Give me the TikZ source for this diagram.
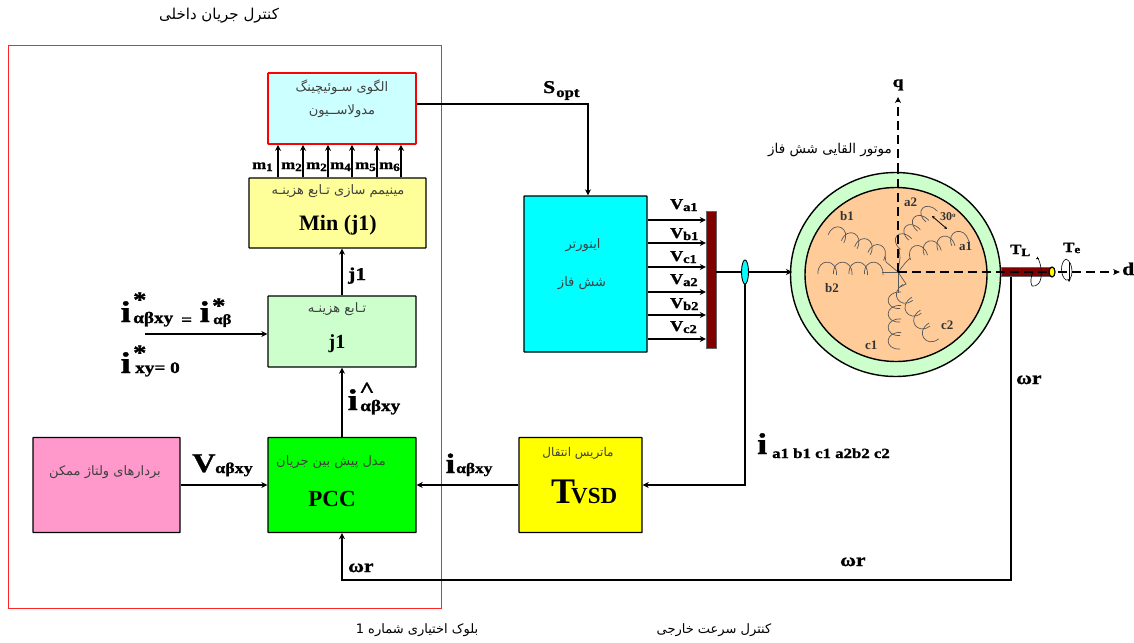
\documentclass[tikz,border=0pt]{standalone}
\usepackage{fontspec}
\setmainfont{Liberation Serif}
\newfontfamily\fafont[Script=Arabic]{DejaVu Sans}
\newfontfamily\hv[UprightFont={* Bold},FakeStretch=1.2,FakeBold=1.2]{Liberation Serif}
\TeXXeTstate=1
\usetikzlibrary{arrows.meta,shapes.geometric}
\definecolor{sensfill}{RGB}{0,255,255}
\definecolor{endfill}{RGB}{255,255,0}
\newcommand\sz[1]{\fontsize{#1}{#1}\selectfont}
\newcommand\per[1]{{\fafont\beginR #1\endR}}
\newcommand\coil[5]{% x,y,angle,n,step
  \begin{scope}[shift={(#1,#2)},rotate=#3]
    \foreach \k in {1,...,#4}{
      \pgfmathsetmacro\xa{(\k-1)*#5}
      \pgfmathsetmacro\xb{\xa+#5+3}
      \draw[coilline] (\xa,2) .. controls (\xa-1,-14) and (\xb+1,-14) .. (\xb,3);
    }
  \end{scope}}
\tikzset{
  x=1pt,y=-1pt,
  box/.style={draw=black,line width=1.4pt,minimum width=#1,inner sep=0pt,rounded corners=0.5pt},
  arr/.style={line width=1.2pt,-{Stealth[length=6pt,width=6pt]}},
  wire/.style={line width=1.2pt},
  coilline/.style={draw=black!65,line width=0.7pt},
  lab/.style={anchor=base west,inner sep=0pt,font=\hv\sz{14}},
  pertxt/.style={inner sep=0pt,font=\sz{13},text=black!75},
  axis/.style={line width=1.4pt,dash pattern=on 9pt off 5pt},
}
\begin{document}
\begin{tikzpicture}
\useasboundingbox (0,0) rectangle (1134,642);
\fill[white] (0,0) rectangle (1134,642);
% frame
\draw[red!85!white,line width=0.9pt] (8,45) rectangle (441,608);
% boxes
\node[box=148pt,minimum height=71pt,fill={rgb,255:red,204;green,255;blue,255},draw=red,line width=1.6pt] (mod) at (342,108.5) {};
\node[box=177pt,minimum height=70pt,fill={rgb,255:red,255;green,255;blue,153}] (minb) at (337.5,213) {};
\node[box=148pt,minimum height=71pt,fill={rgb,255:red,204;green,255;blue,204}] (cost) at (342,331.5) {};
\node[box=148pt,minimum height=95pt,fill={rgb,255:red,0;green,255;blue,0}] (pcc) at (342,485) {};
\node[box=147pt,minimum height=95pt,fill={rgb,255:red,255;green,153;blue,204}] (volt) at (106.5,485) {};
\node[box=123pt,minimum height=95pt,fill={rgb,255:red,255;green,255;blue,0}] (tvsd) at (580.5,485) {};
\node[box=123pt,minimum height=156pt,fill={rgb,255:red,0;green,255;blue,255}] (inv) at (585.5,274) {};
\node[draw=black!60,line width=0.4pt,fill={rgb,255:red,128;green,0;blue,0},minimum width=10pt,minimum height=137pt,inner sep=0pt] (bus) at (711,279.5) {};
% box texts
\node[pertxt] (t1) at (342,87) {\per{الگوی سـوئیچینگ}};
\node[pertxt] (t2) at (342,111) {\per{مدولاســیون}};
\node[pertxt] (t3) at (338,191) {\per{مینیمم سازی تـابع هزینـه}};
\node[inner sep=0pt,font=\bfseries\sz{22}] (t4) at (338,225) {Min (j1)};
\node[pertxt] (t5) at (337,309) {\per{تـابع هزینـه}};
\node[inner sep=0pt,font=\bfseries\sz{20}] (t6) at (337,344) {j1};
\node[pertxt] (t7) at (331,462) {\per{مدل پیش بین جریان}};
\node[inner sep=0pt,font=\bfseries\sz{23}] (t8) at (332,499) {PCC};
\node[pertxt] (t9) at (105,472) {\per{بردارهای ولتاژ ممکن}};
\node[pertxt,font=\sz{12}] (t10) at (578,453) {\per{ماتریس انتقال}};
\node[anchor=base west,inner sep=0pt,font=\bfseries\sz{36}] (t11) at (551,503) {T};
\node[anchor=base west,inner sep=0pt,font=\bfseries\sz{23}] (t12) at (571,503) {VSD};
\node[pertxt] (t13) at (583,245) {\per{اینورتر}};
\node[pertxt] (t14) at (582,283) {\per{شش فاز}};
% outer texts
\node[pertxt,text=black,font=\sz{15}] (t15) at (219,16) {\per{کنترل جریان داخلی}};
\node[pertxt,text=black,font=\sz{13.5}] (t16) at (830,150) {\per{موتور القایی شش فاز}};
\node[pertxt,text=black] (t17) at (417,630) {\per{بلوک اختیاری شماره \beginL 1\endL}};
\node[pertxt,text=black] (t18) at (714,630) {\per{کنترل سرعت خارجی}};
% m arrows
\foreach \x/\lx/\n in {278/252/1,303/281/2,328/306/2,352/330/4,377/355/5,401/379/6}{
  \draw[arr] (minb.north -| \x,0) -- (mod.south -| \x,0);
  \node[lab] (m\lx) at (\lx,169) {m\raisebox{-2pt}{\sz{11}\n}};
}
\draw[arr] (cost.north) -- (cost.north |- minb.south);
\draw[arr] (pcc.north) -- (cost.south);
\draw[arr] (volt.east) -- (pcc.west);
\draw[arr] (tvsd.west) -- (pcc.east);
% reference input
\coordinate (irefstart) at (145,334);
\draw[arr] (irefstart) -- (irefstart -| cost.west);
% motor
\coordinate (mc) at (898,272);
\draw[line width=1.4pt,fill={rgb,255:red,204;green,255;blue,204}] (895.5,274.5) ellipse [x radius=105,y radius=102];
\draw[line width=1.4pt,fill={rgb,255:red,255;green,204;blue,153}] (896,274.5) ellipse [x radius=91,y radius=87];
% windings
\draw[coilline] (mc) -- (882,272);
\coil{818}{272}{0}{4}{15.5}
\draw[coilline] (mc) -- (886,262) -- (885,256);
\coil{829}{233}{-24}{4}{14.5}
\draw[coilline] (mc) -- (906,262) -- (910,258);
\coil{910}{258}{19}{4}{14.5}
\draw[coilline] (mc) -- (900,258) -- (899,248);
\coil{899}{248}{47}{4}{12.5}
\draw[coilline] (mc) -- (898,293);
\coil{898}{349}{90}{4}{13.5}
\draw[coilline] (mc) -- (906,284) -- (900,287);
\coil{937}{340}{124}{4}{15.5}
% axes
\draw[axis] (mc) -- (898,172);
\draw[arr,dash pattern=on 9pt off 5pt] (898,172) -- (898,97);
\node[draw=black!60,line width=0.3pt,fill={rgb,255:red,128;green,0;blue,0},minimum width=51pt,minimum height=9pt,inner sep=0pt] (shaft) at (1026.5,272) {};
\draw[axis] (mc) -- (1052,272);
\draw[line width=1.2pt,fill=endfill] (1052,272) ellipse [x radius=3,y radius=5];
\draw[line width=1.2pt,dash pattern=on 9pt off 5pt,-{Stealth[length=7pt,width=6pt,open]}] (1058,272) -- (1120,272);
% rotation marks
\draw[line width=0.6pt,-{Stealth[length=3pt,width=3pt]}] (1032,286) .. controls (1036,287) and (1043,284) .. (1041,268) .. controls (1040,262) and (1038,258) .. (1036,259);
\draw[line width=0.6pt] (1032,286) .. controls (1030,282) and (1031,276) .. (1033,272);
\draw[line width=0.6pt] (1066,259) .. controls (1060,262) and (1060,276) .. (1066,280) .. controls (1074,282) and (1074,262) .. (1066,259);
\draw[line width=0.6pt,-{Stealth[length=3pt,width=3pt]}] (1069,262) -- (1069,282);
% bus connections
\foreach \y in {220,243,267,292,315,339}{
  \draw[arr] (inv.east |- 0,\y) -- (bus.west |- 0,\y);
}
% to motor
\node[draw=black,line width=0.9pt,fill=sensfill,ellipse,minimum width=7pt,minimum height=24pt,inner sep=0pt] (sens) at (745,272) {};
\draw[wire] (bus.east |- 0,272) -- (sens.west);
\draw[arr] (sens.east) -- (792,272);
\coordinate (c1) at (745,485);
\draw[arr] (sens.south) -- (c1) -- (tvsd.east);
% Sopt
\coordinate (c2) at (588,104);
\draw[arr] (mod.east |- c2) -- (c2) -- (inv.north -| c2);
% speed feedback
\coordinate (c3) at (1011,580);
\coordinate (c4) at (342,580);
\draw[arr] (shaft.south -| c3) -- (c3) -- (c4) -- (pcc.south -| c4);
% labels
\node[lab,font=\hv\sz{18}] (l1) at (543,93) {S};
\node[lab,font=\hv\sz{14}] (l2) at (556,97) {opt};
\node[lab,font=\hv\sz{18}] (l3) at (348,280) {j1};
\foreach \y/\n/\s in {211/a1/1,240/b1/2,263/c1/3,286/a2/4,310/b2/5,333/c2/6}{
  \node[lab,font=\hv\sz{15}] (va\s) at (670,\y-2) {V\raisebox{-2pt}{\sz{12}\n}};
}
% i reference
\node[lab,font=\hv\sz{30}] (i1) at (120.5,322) {i};
\node[lab,font=\hv\sz{22}] (s1) at (133,307) {*};
\node[lab,font=\hv\sz{16}] (g1) at (133,323) {αβxy};
\node[lab,font=\hv\sz{16}] (e1) at (181,325) {=};
\node[lab,font=\hv\sz{30}] (i2) at (199.5,322) {i};
\node[lab,font=\hv\sz{22}] (s2) at (212,313) {*};
\node[lab,font=\hv\sz{14}] (g2) at (213,324) {αβ};
\node[lab,font=\hv\sz{30}] (i3) at (120.5,373) {i};
\node[lab,font=\hv\sz{22}] (s3) at (133,360) {*};
\node[lab,font=\hv\sz{16}] (g3) at (135,373) {xy= 0};
% i hat
\node[lab,font=\hv\sz{30}] (i4) at (347.5,410) {i};
\node[lab,font=\hv\sz{22}] (h4) at (359,397) {\^{}};
\node[lab,font=\hv\sz{16}] (g4) at (360,411) {αβxy};
% V
\node[lab,font=\hv\sz{27}] (v1) at (192,472) {V};
\node[lab,font=\hv\sz{15}] (g5) at (215,473) {αβxy};
% i ab
\node[lab,font=\hv\sz{28}] (i5) at (445.5,473) {i};
\node[lab,font=\hv\sz{14.5}] (g6) at (456,473) {αβxy};
% i abc
\node[lab,font=\hv\sz{30}] (i6) at (757,454) {i};
\node[lab,font=\hv\sz{14}] (g7) at (772,458) {a1 b1 c1 a2b2 c2};
% omega
\node[lab,font=\hv\sz{18}] (w1) at (348,572) {ωr};
\node[lab,font=\hv\sz{18}] (w2) at (840,566) {ωr};
\node[lab,font=\hv\sz{18}] (w3) at (1016,384) {ωr};
% motor labels
\node[lab,font=\hv\sz{16}] (q) at (892.5,87) {q};
\node[lab,font=\hv\sz{18}] (d) at (1122,275) {d};
\node[lab,font=\hv\sz{14}] (tl) at (1010,254) {T\raisebox{-2pt}{\sz{11}L}};
\node[lab,font=\hv\sz{14}] (te) at (1063,252) {T\raisebox{-1pt}{\sz{11}e}};
\node[lab,font=\sz{13}\bfseries,text=black!80] (a2) at (904,206) {a2};
\node[lab,font=\sz{13}\bfseries,text=black!80] (b1) at (840,220) {b1};
\node[lab,font=\sz{13}\bfseries,text=black!80] (a1) at (959,250) {a1};
\node[lab,font=\sz{13}\bfseries,text=black!80] (b2) at (825,292) {b2};
\node[lab,font=\sz{13}\bfseries,text=black!80] (c1t) at (865,349) {c1};
\node[lab,font=\sz{13}\bfseries,text=black!80] (c2t) at (941,329) {c2};
\node[lab,font=\sz{12}\bfseries,text=black!80] (ang) at (940,220) {30\raisebox{3pt}{\sz{7}o}};
\coordinate (arA) at (932,216);
\coordinate (arB) at (947,229);
\draw[line width=0.8pt,{Stealth[length=3pt,width=3pt]}-{Stealth[length=3pt,width=3pt]}] (arA) -- (arB);
\end{tikzpicture}
\end{document}
